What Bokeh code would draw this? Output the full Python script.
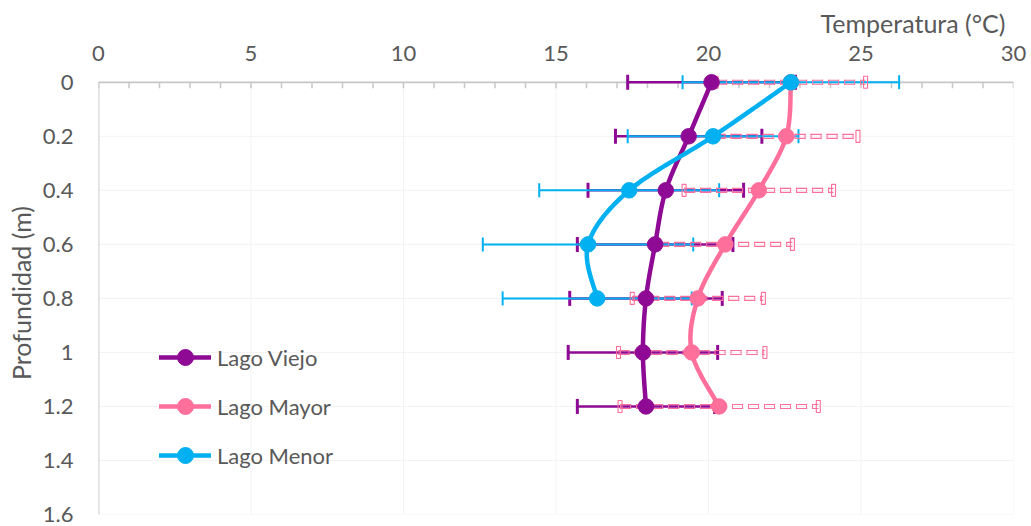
import numpy as np
from bokeh.plotting import figure
from bokeh.models import (Range1d, FixedTicker, CustomJSTickFormatter,
                          Legend, LegendItem)
from bokeh.embed import file_html
from bokeh.resources import INLINE

# ---- data: temperature (°C) by depth (m), mean ± error ----
depth = [0.0, 0.2, 0.4, 0.6, 0.8, 1.0, 1.2]
viejo_temp = [20.1, 19.35, 18.6, 18.25, 17.95, 17.85, 17.95]
viejo_err = [2.75, 2.4, 2.55, 2.55, 2.5, 2.45, 2.25]
mayor_temp = [22.7, 22.55, 21.65, 20.55, 19.65, 19.45, 20.35]
mayor_err = [2.45, 2.35, 2.45, 2.2, 2.15, 2.4, 3.25]
menor_depth = [0.0, 0.2, 0.4, 0.6, 0.8]
menor_temp = [22.7, 20.15, 17.4, 16.05, 16.35]
menor_err = [3.55, 2.8, 2.95, 3.45, 3.1]

x_ticks = [0, 5, 10, 15, 20, 25, 30]
x_minor = list(range(0, 31))
y_ticks = [0.0, 0.2, 0.4, 0.6, 0.8, 1.0, 1.2, 1.4, 1.6]

# ---- style ----
FONT = "Lato"
TEXT = "#595959"
AXIS = "#C6C6C6"
GRID = "#F3F3F3"
PURPLE = "#8E0A94"
PINK = "#FF6F9C"
BLUE = "#00B0F0"

FRAME_W, FRAME_H = 915, 443
Y_TOP = -0.04          # small headroom so surface markers are not clipped
Y_BOTTOM = 1.6
PX_PER_M = FRAME_H / (Y_BOTTOM - Y_TOP)

p = figure(frame_width=FRAME_W, frame_height=FRAME_H,
           x_range=Range1d(0, 30), y_range=Range1d(Y_BOTTOM, Y_TOP),
           x_axis_location="above", title="Temperatura (°C)",
           min_border_left=98, min_border_right=18,
           min_border_top=71, min_border_bottom=12,
           output_backend="svg", toolbar_location=None)
p.outline_line_color = None
p.background_fill_color = "white"
p.border_fill_color = "white"
p.grid.visible = False

p.title.align = "right"
p.title.offset = 8
p.title.standoff = 10
p.title.text_font = FONT
p.title.text_font_style = "normal"
p.title.text_font_size = "25px"
p.title.text_color = TEXT

for ax in (p.xaxis[0], p.yaxis[0]):
    ax.axis_line_color = None
    ax.major_tick_line_color = None
    ax.minor_tick_line_color = None
    ax.major_tick_out = 0
    ax.major_tick_in = 0
    ax.minor_tick_out = 0
    ax.minor_tick_in = 0
    ax.major_label_text_font = FONT
    ax.major_label_text_font_size = "22px"
    ax.major_label_text_color = TEXT

xa = p.xaxis[0]
xa.ticker = FixedTicker(ticks=x_ticks)
xa.major_label_standoff = 11

ya = p.yaxis[0]
ya.ticker = FixedTicker(ticks=y_ticks)
ya.formatter = CustomJSTickFormatter(code="return Number(tick.toFixed(1)).toString();")
ya.major_label_standoff = 25
ya.axis_label = "Profundidad (m)"
ya.axis_label_standoff = 4
ya.axis_label_text_font = FONT
ya.axis_label_text_font_style = "normal"
ya.axis_label_text_font_size = "25px"
ya.axis_label_text_color = TEXT

# ---- grid, axis lines and tick marks at the surface (depth 0) ----
p.segment(x0=x_ticks[1:], y0=[0] * 6, x1=x_ticks[1:], y1=[Y_BOTTOM] * 6,
          line_color=GRID, line_width=1)
p.segment(x0=[0] * 8, y0=y_ticks[1:], x1=[30] * 8, y1=y_ticks[1:],
          line_color=GRID, line_width=1)
tick_len = 6 / PX_PER_M
p.segment(x0=x_minor, y0=[0] * len(x_minor), x1=x_minor,
          y1=[tick_len] * len(x_minor), line_color=AXIS, line_width=1.5)
p.segment(x0=[0, 0], y0=[0, 0], x1=[30, 0], y1=[0, Y_BOTTOM],
          line_color=AXIS, line_width=1.8)


def plain_bars(temp, err, dep, color, bar_w, cap_w, cap_h):
    lo = [t - e for t, e in zip(temp, err)]
    hi = [t + e for t, e in zip(temp, err)]
    p.segment(x0=lo, y0=dep, x1=hi, y1=dep, line_color=color, line_width=bar_w)
    p.scatter(x=lo + hi, y=list(dep) + list(dep), marker="dash",
              angle=np.pi / 2, size=cap_h, line_color=color, line_width=cap_w)


def hollow_dashed_bars(temp, err, dep, color):
    lo = [t - e for t, e in zip(temp, err)]
    hi = [t + e for t, e in zip(temp, err)]
    off = 2.0 / PX_PER_M
    for s in (-1, 1):
        yy = [d + s * off for d in dep]
        p.segment(x0=lo, y0=yy, x1=hi, y1=yy, line_color=color,
                  line_width=1.1, line_dash="11 5")
    # closing ends of every dash
    p.segment(x0=lo, y0=dep, x1=hi, y1=dep, line_color=color,
              line_width=5, line_dash="1 9 1 5")
    p.rect(x=lo + hi, y=list(dep) + list(dep), width=4, height=12,
           width_units="screen", height_units="screen",
           fill_color=None, line_color=color, line_width=1.1)


def smooth(xs, ys, n=24):
    pts = np.column_stack([xs, ys]).astype(float)
    ext = np.vstack([pts[0], pts, pts[-1]])
    out = [pts[0]]
    t = np.linspace(0, 1, n)[1:, None]
    for i in range(len(pts) - 1):
        p0, p1, p2, p3 = ext[i], ext[i + 1], ext[i + 2], ext[i + 3]
        c1 = p1 + (p2 - p0) / 6
        c2 = p2 - (p3 - p1) / 6
        seg = ((1 - t) ** 3) * p1 + 3 * ((1 - t) ** 2) * t * c1 \
            + 3 * (1 - t) * (t ** 2) * c2 + (t ** 3) * p2
        out.extend(seg)
    out = np.array(out)
    return out[:, 0], out[:, 1]


# error bars sit beneath all curves
plain_bars(viejo_temp, viejo_err, depth, PURPLE, 2.5, 3, 15)
plain_bars(menor_temp, menor_err, menor_depth, BLUE, 2, 2, 14)
hollow_dashed_bars(mayor_temp, mayor_err, depth, PINK)

items = []
for name, temp, dep, color in (("Lago Viejo", viejo_temp, depth, PURPLE),
                               ("Lago Mayor", mayor_temp, depth, PINK),
                               ("Lago Menor", menor_temp, menor_depth, BLUE)):
    sx, sy = smooth(temp, dep)
    r_line = p.line(sx, sy, line_color=color, line_width=4.5,
                    line_join="round", line_cap="round")
    r_pts = p.scatter(temp, dep, size=15.5, fill_color=color, line_color=color)
    items.append(LegendItem(label=name, renderers=[r_line, r_pts]))

legend = Legend(items=items, location=(61, 39), glyph_width=52, glyph_height=40,
                label_height=40, spacing=9, padding=0, margin=0,
                border_line_color=None, background_fill_alpha=0,
                label_standoff=6, label_text_font=FONT,
                label_text_font_size="22px", label_text_color=TEXT)
p.add_layout(legend)

open("out.html", "w").write(file_html(p, INLINE))
